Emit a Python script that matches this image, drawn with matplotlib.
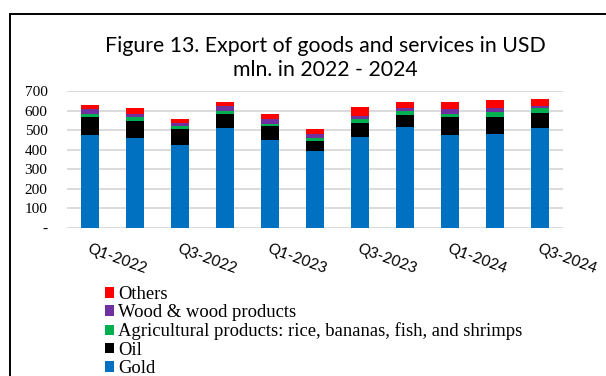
import matplotlib
matplotlib.use("Agg")
import matplotlib.pyplot as plt
from matplotlib.patches import Rectangle
import numpy as np

plt.rcParams["font.serif"] = ["Liberation Serif", "DejaVu Serif"]

# Quarterly export values, USD mln
quarters = ["Q1-2022", "Q2-2022", "Q3-2022", "Q4-2022",
            "Q1-2023", "Q2-2023", "Q3-2023", "Q4-2023",
            "Q1-2024", "Q2-2024", "Q3-2024"]
gold = [475, 458, 424, 509, 450, 392, 465, 516, 475, 480, 513]
oil = [91, 91, 84, 74, 73, 51, 73, 62, 92, 89, 75]
agri = [15, 18, 15, 13, 10, 17, 17, 18, 17, 22, 24]
wood = [29, 17, 14, 26, 26, 20, 16, 16, 26, 21, 12]
others = [20, 29, 22, 20, 24, 26, 49, 32, 34, 42, 34]

series = [
    ("Gold", gold, "#0070C0"),
    ("Oil", oil, "#000000"),
    ("Agricultural products: rice, bananas, fish, and shrimps", agri, "#00B050"),
    ("Wood & wood products", wood, "#7030A0"),
    ("Others", others, "#FF0000"),
]

yticks = [0, 100, 200, 300, 400, 500, 600, 700]
ytick_labels = ["-", "100", "200", "300", "400", "500", "600", "700"]

W, H = 606, 376
fig = plt.figure(figsize=(W / 100, H / 100), dpi=100)

# outer frame
fig.patches.append(Rectangle((9.5 / W, -0.1), 1.2, 1 - 13.5 / H + 0.1,
                             transform=fig.transFigure, fill=False,
                             edgecolor="black", linewidth=1.4))

ax = fig.add_axes([67 / W, 1 - 228 / H, 496 / W, 137 / H])
x = np.arange(len(quarters))
bottom = np.zeros(len(quarters))
handles = []
for name, vals, color in series:
    b = ax.bar(x, vals, width=0.4, bottom=bottom, color=color, label=name,
               zorder=3, linewidth=0)
    handles.append(b)
    bottom += np.array(vals)

ax.set_xlim(-0.5, len(quarters) - 0.5)
ax.set_ylim(0, 700)
ax.set_yticks(yticks)
ax.set_yticklabels(ytick_labels, fontfamily="serif", fontsize=11)
ax.tick_params(axis="y", length=0, pad=14)
ax.grid(axis="y", color="#d9d9d9", linewidth=1.3, zorder=0)
for s in ax.spines.values():
    s.set_visible(False)

ax.set_xticks(x[::2])
ax.set_xticklabels(quarters[::2], rotation=-20, ha="left", va="top",
                   rotation_mode="anchor", fontfamily="Lato", fontsize=11)
ax.tick_params(axis="x", length=0, pad=10)

fig.text(0.537, 1 - 58 / H, "Figure 13. Export of goods and services in USD\nmln. in 2022 - 2024",
         ha="center", va="center", fontfamily="Lato", fontsize=15.3,
         linespacing=1.3)

leg = fig.legend(handles[::-1], [s[0] for s in series][::-1],
                 loc="upper left", bbox_to_anchor=(105 / W, 1 - 286 / H),
                 frameon=False, prop={"family": "serif", "size": 13.4},
                 handlelength=0.5, handleheight=0.5, handletextpad=0.2,
                 labelspacing=0.07, borderaxespad=0, borderpad=0)

fig.savefig("out.png", dpi=100)
